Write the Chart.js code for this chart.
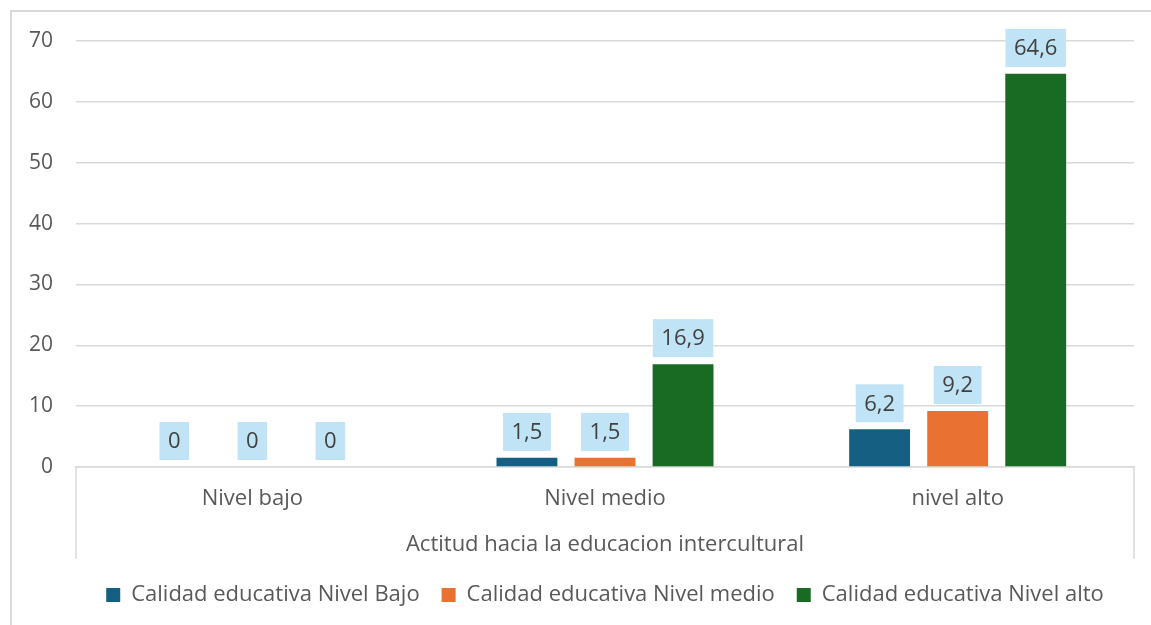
<!DOCTYPE html>
<html>
<head>
<meta charset="utf-8">
<script src="https://cdn.jsdelivr.net/npm/chart.js@4/dist/chart.umd.min.js"></script>
<style>
  html, body { margin: 0; padding: 0; background: #ffffff; }
  #wrap { width: 1151px; height: 625px; }
</style>
</head>
<body>
<div id="wrap"><canvas id="myChart" width="1151" height="625"></canvas></div>
<script>
// Data
const categories = ['Nivel bajo', 'Nivel medio', 'nivel alto'];
const seriesNames = ['Calidad educativa Nivel Bajo', 'Calidad educativa Nivel medio', 'Calidad educativa Nivel alto'];
const nivelBajo = [0, 1.5, 6.2];
const nivelMedio = [0, 1.5, 9.2];
const nivelAlto = [0, 16.9, 64.6];
const yTicks = [0, 10, 20, 30, 40, 50, 60, 70];
const axisTitle = 'Actitud hacia la educacion intercultural';

const colors = ['#156082', '#E97132', '#196B24'];
const textColor = '#595959';
const gridColor = '#d9d9d9';
const fontFamily = '"Open Sans", "Noto Sans", sans-serif';

// draws the light blue value boxes above each bar
const valueBoxes = {
  id: 'valueBoxes',
  afterDatasetsDraw(chart) {
    const ctx = chart.ctx;
    ctx.save();
    ctx.font = '22px ' + fontFamily;
    ctx.textAlign = 'center';
    ctx.textBaseline = 'middle';
    chart.data.datasets.forEach(function (ds, i) {
      const meta = chart.getDatasetMeta(i);
      meta.data.forEach(function (bar, j) {
        const txt = String(ds.data[j]).replace('.', ',');
        const w = ctx.measureText(txt).width + 17;
        const h = 38;
        const bottom = bar.y - 7;
        ctx.fillStyle = '#C0E4F5';
        ctx.fillRect(bar.x - w / 2, bottom - h, w, h);
        ctx.fillStyle = '#404040';
        ctx.fillText(txt, bar.x, bottom - h / 2 + 1);
      });
    });
    ctx.restore();
  }
};

// outer frame and the category box lines under the plot
const frame = {
  id: 'frame',
  afterDraw(chart) {
    const ctx = chart.ctx;
    const area = chart.chartArea;
    ctx.save();
    ctx.strokeStyle = gridColor;
    ctx.lineWidth = 1.5;
    ctx.beginPath();
    ctx.moveTo(area.left, area.bottom);
    ctx.lineTo(area.left, area.bottom + 92);
    ctx.moveTo(area.right, area.bottom);
    ctx.lineTo(area.right, area.bottom + 92);
    ctx.stroke();
    ctx.lineWidth = 2;
    ctx.beginPath();
    ctx.moveTo(11, chart.height);
    ctx.lineTo(11, 11);
    ctx.lineTo(chart.width, 11);
    ctx.stroke();
    ctx.restore();
  }
};

const ctx = document.getElementById('myChart').getContext('2d');
const myChart = new Chart(ctx, {
  type: 'bar',
  data: {
    labels: categories,
    datasets: [
      { label: seriesNames[0], data: nivelBajo, backgroundColor: colors[0] },
      { label: seriesNames[1], data: nivelMedio, backgroundColor: colors[1] },
      { label: seriesNames[2], data: nivelAlto, backgroundColor: colors[2] }
    ]
  },
  options: {
    responsive: false,
    animation: false,
    datasets: {
      bar: { barPercentage: 0.78, categoryPercentage: 0.664 }
    },
    layout: {
      padding: { left: 0, right: 17, top: 41, bottom: 9 }
    },
    scales: {
      x: {
        grid: { display: false, drawTicks: false },
        border: { display: true, color: gridColor, width: 1.5 },
        ticks: {
          color: textColor,
          font: { family: fontFamily, size: 22 },
          padding: 19
        },
        title: {
          display: true,
          text: axisTitle,
          color: textColor,
          font: { family: fontFamily, size: 22 },
          padding: { top: 0, bottom: 4 }
        },
        afterFit(scale) { scale.height = 95; }
      },
      y: {
        min: 0,
        max: 70,
        afterBuildTicks(scale) {
          scale.ticks = yTicks.map(v => ({ value: v }));
        },
        grid: { color: gridColor, lineWidth: 1.5, drawTicks: false },
        border: { display: false },
        ticks: {
          color: textColor,
          font: { family: fontFamily, size: 21 },
          padding: 23
        },
        afterFit(scale) { scale.width = 76; }
      }
    },
    plugins: {
      legend: {
        position: 'bottom',
        fullSize: false,
        labels: {
          boxWidth: 14,
          boxHeight: 14,
          padding: 22,
          color: textColor,
          font: { family: fontFamily, size: 22 }
        }
      },
      tooltip: { enabled: false }
    }
  },
  plugins: [valueBoxes, frame]
});
</script>
</body>
</html>
